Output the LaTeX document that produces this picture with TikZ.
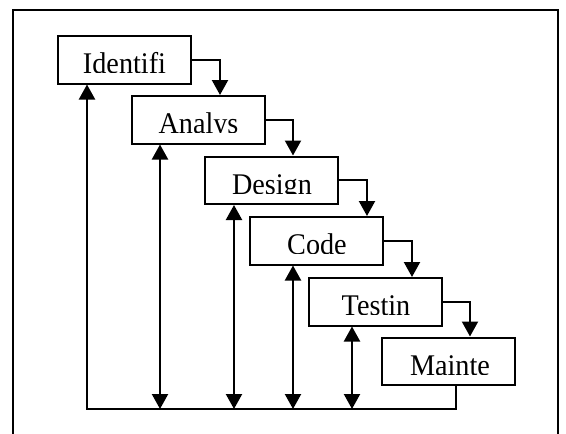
\documentclass[tikz,border=0pt]{standalone}
\usepackage{fontspec}
\setmainfont[FakeStretch=0.94]{Liberation Serif}
\usetikzlibrary{arrows.meta}
\begin{document}
\begin{tikzpicture}[x=1pt,y=-1pt, line width=2pt,
 phase/.style={draw, line width=2pt, minimum width=133pt, minimum height=47.5pt, anchor=north west, inner sep=0pt},
 lbl/.style={font=\fontsize{30}{31}\selectfont, anchor=base, inner sep=0pt},
 flow/.style={-{Triangle[width=16pt,length=15pt]}, line width=2.2pt},
 both/.style={{Triangle[width=16pt,length=15pt]}-{Triangle[width=16pt,length=15pt]}, line width=2.2pt}]
\useasboundingbox (0,0) rectangle (566,434);
\draw (13,440) -- (13,10) -- (558,10) -- (558,440);
% boxes
\node[phase] (I) at (57,35) {};
\node[phase] (A) at (131,95) {};
\node[phase] (D) at (204,155.5) {};
\node[phase] (C) at (249,216) {};
\node[phase] (T) at (308,277) {};
\node[phase] (M) at (381,336.5) {};
% labels (clipped at the baseline)
\begin{scope}\clip (57,35) rectangle (190,72.5);
\node[lbl] (It) at (124.5,73.5) {Identifi};\end{scope}
\begin{scope}\clip (131,95) rectangle (264,132.5);
\node[lbl] (At) at (198.5,133.5) {Analys};\end{scope}
\begin{scope}\clip (204,155.5) rectangle (337,193);
\node[lbl] (Dt) at (272,194) {Design};\end{scope}
\begin{scope}\clip (249,216) rectangle (382,253.5);
\node[lbl] (Ct) at (317,254.5) {Code};\end{scope}
\begin{scope}\clip (308,277) rectangle (441,314.5);
\node[lbl] (Tt) at (376,315.5) {Testin};\end{scope}
\begin{scope}\clip (381,336.5) rectangle (514,374.5);
\node[lbl] (Mt) at (450,375.5) {Mainte};\end{scope}
% forward flow
\draw[flow] (I.east) -| ([xshift=89pt]A.north west);
\draw[flow] (A.east) -| ([xshift=89pt]D.north west);
\draw[flow] (D.east) -| ([xshift=118pt]C.north west);
\draw[flow] (C.east) -| ([xshift=104pt]T.north west);
\draw[flow] (T.east) -| ([xshift=89pt]M.north west);
% feedback
\coordinate (b0) at (87,409);
\coordinate (b1) at (160,409);
\coordinate (b2) at (234,409);
\coordinate (b3) at (293,409);
\coordinate (b4) at (352,409);
\coordinate (b5) at (456,409);
\draw[flow] (M.south -| b5) -- (b5) -- (b0) -- (I.south -| b0);
\draw[both] (b1) -- (A.south -| b1);
\draw[both] (b2) -- (D.south -| b2);
\draw[both] (b3) -- (C.south -| b3);
\draw[both] (b4) -- (T.south -| b4);
\end{tikzpicture}
\end{document}
